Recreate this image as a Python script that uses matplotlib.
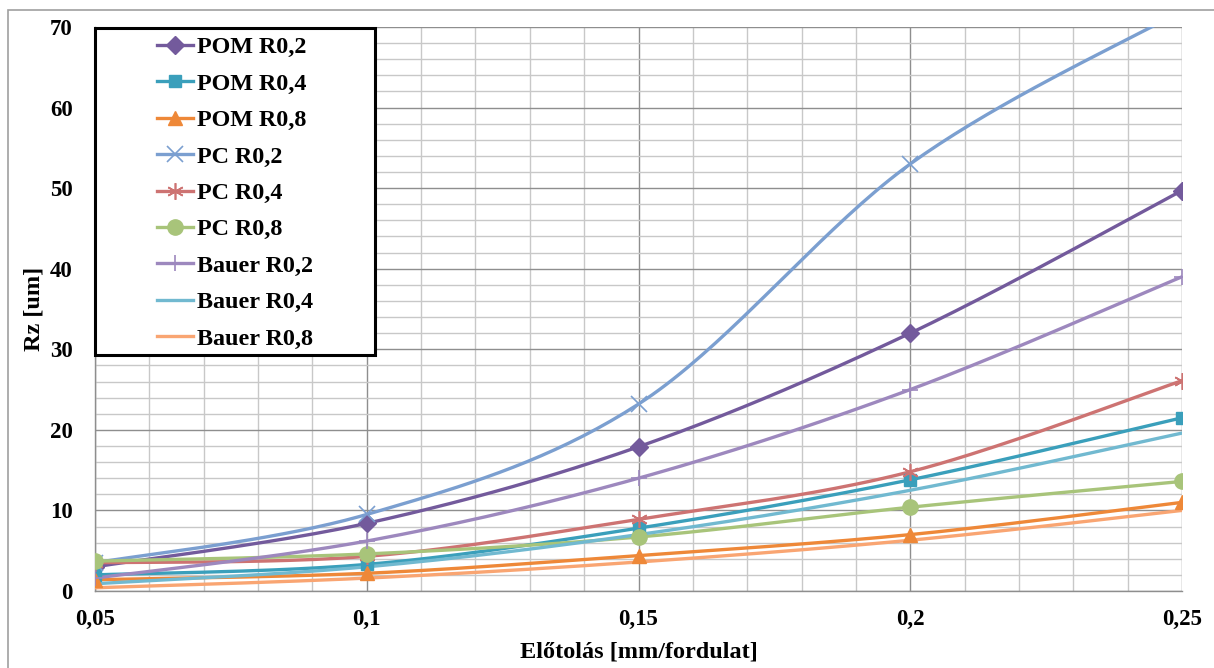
import numpy as np
import matplotlib.pyplot as plt
from matplotlib.patches import Rectangle
from matplotlib.ticker import MultipleLocator, FuncFormatter

# feed values (mm/fordulat)
feed = [0.05, 0.10, 0.15, 0.20, 0.25]

series_names = ['POM R0,2', 'POM R0,4', 'POM R0,8',
                'PC R0,2', 'PC R0,4', 'PC R0,8',
                'Bauer R0,2', 'Bauer R0,4', 'Bauer R0,8']

pom_r02 = [3.0, 8.4, 17.9, 32.0, 49.7]
pom_r04 = [2.0, 3.3, 7.8, 13.8, 21.5]
pom_r08 = [1.4, 2.2, 4.4, 7.0, 11.0]
pc_r02 = [3.5, 9.5, 23.2, 53.0, 72.0]
pc_r04 = [3.5, 4.3, 8.9, 14.8, 26.1]
pc_r08 = [3.7, 4.6, 6.7, 10.4, 13.6]
bauer_r02 = [1.6, 6.2, 14.0, 25.0, 39.0]
bauer_r04 = [0.9, 3.0, 7.0, 12.5, 19.6]
bauer_r08 = [0.4, 1.6, 3.6, 6.3, 10.0]

all_series = [pom_r02, pom_r04, pom_r08, pc_r02, pc_r04, pc_r08,
              bauer_r02, bauer_r04, bauer_r08]

colors = ['#735A9C', '#3A9FBB', '#EE8838', '#7B9FD0', '#CD7372',
          '#A8C47A', '#9D88BE', '#71B9D0', '#F9A572']
markers = ['D', 's', '^', 'x', (6, 2, 0), 'o', '+', None, None]
msizes = [9, 9, 10, 11, 12, 11, 12, 0, 0]


def smooth(x, y, n=40):
    # Excel-like smoothed line (Catmull-Rom, endpoints duplicated)
    x = np.asarray(x, float)
    y = np.asarray(y, float)
    px = np.concatenate([[x[0]], x, [x[-1]]])
    py = np.concatenate([[y[0]], y, [y[-1]]])
    xs, ys = [], []
    for i in range(1, len(px) - 2):
        t = np.linspace(0, 1, n)
        h00 = 2 * t**3 - 3 * t**2 + 1
        h10 = t**3 - 2 * t**2 + t
        h01 = -2 * t**3 + 3 * t**2
        h11 = t**3 - t**2
        for arr, out in ((px, xs), (py, ys)):
            m1 = (arr[i + 1] - arr[i - 1]) / 2
            m2 = (arr[i + 2] - arr[i]) / 2
            out.append(h00 * arr[i] + h10 * m1 + h01 * arr[i + 1] + h11 * m2)
    return np.concatenate(xs), np.concatenate(ys)


W, H = 1214, 668
fig = plt.figure(figsize=(W / 100, H / 100), dpi=100)
ax = fig.add_axes([95 / W, 1 - 591 / H, (1182 - 95) / W, (591 - 27) / H])

font = {'family': 'Liberation Serif', 'weight': 'bold'}

handles = []
for name, vals, c, m, ms in zip(series_names, all_series, colors, markers, msizes):
    sx, sy = smooth(feed, vals)
    ax.plot(sx, sy, color=c, lw=2.4, zorder=3)
    ax.plot(feed, vals, linestyle='none', marker=m, markersize=ms, color=c,
            markeredgewidth=1.2 if m in ('x', '+', (6, 2, 0)) else 1, zorder=4)
    h, = ax.plot([], [], color=c, lw=2.4, marker=m, markersize=ms,
                 markeredgewidth=1.2 if m in ('x', '+', (6, 2, 0)) else 1, label=name)
    handles.append(h)

ax.set_xlim(0.05, 0.25)
ax.set_ylim(0, 70)
ax.xaxis.set_major_locator(MultipleLocator(0.05))
ax.xaxis.set_minor_locator(MultipleLocator(0.01))
ax.yaxis.set_major_locator(MultipleLocator(10))
ax.yaxis.set_minor_locator(MultipleLocator(2))
ax.grid(which='major', color='#8E8E8E', lw=1.0)
ax.grid(which='minor', color='#C8C8C8', lw=1.0)
ax.set_axisbelow(True)

ax.xaxis.set_major_formatter(FuncFormatter(lambda v, p: ('%g' % round(v, 2)).replace('.', ',')))
ax.yaxis.set_major_formatter(FuncFormatter(lambda v, p: '%d' % v))
ax.tick_params(which='both', length=0)
ax.tick_params(axis='x', pad=13)
ax.tick_params(axis='y', pad=16)
for lab in ax.get_xticklabels() + ax.get_yticklabels():
    lab.set_fontfamily('Liberation Serif')
    lab.set_fontweight('bold')
    lab.set_fontsize(16.5)

for s in ax.spines.values():
    s.set_color('#8E8E8E')
    s.set_linewidth(1.0)
ax.spines['top'].set_visible(False)
ax.spines['right'].set_visible(False)

ax.set_xlabel('Előtolás [mm/fordulat]', fontdict=font, fontsize=17.5, labelpad=8)
ax.set_ylabel('Rz [um]', fontdict=font, fontsize=17.5, labelpad=4)

# legend box (Excel style: entries centred in a thick black frame)
box = Rectangle((95 / W, 1 - 355 / H), (375 - 95) / W, (355 - 28) / H,
                transform=fig.transFigure, facecolor='white',
                edgecolor='black', lw=2.2, zorder=9)
fig.patches.append(box)
leg = fig.legend(handles=handles, loc='center', bbox_to_anchor=(235 / W, 1 - 193 / H),
                 prop={'family': 'Liberation Serif', 'weight': 'bold', 'size': 17.4},
                 frameon=False, handlelength=1.5, labelspacing=0.6,
                 handletextpad=0.15, borderpad=0)
leg.set_zorder(10)

# outer chart border
fig.patches.append(Rectangle((8 / W, -0.1), 1.2, 1 - 10 / H + 0.1,
                             transform=fig.transFigure, fill=False,
                             edgecolor='#A0A0A0', lw=1.2))

fig.savefig('out.png', dpi=100)
